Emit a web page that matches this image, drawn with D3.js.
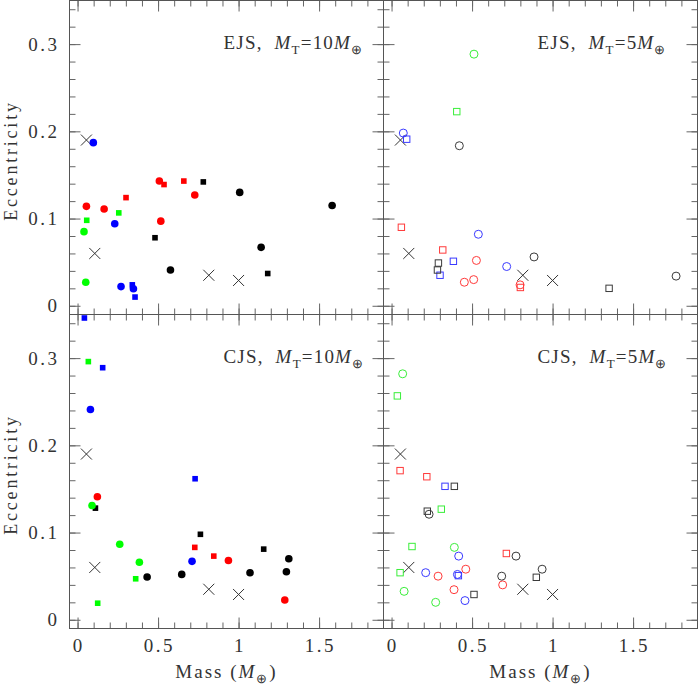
<!DOCTYPE html>
<html>
<head>
<meta charset="utf-8">
<script src="https://cdn.jsdelivr.net/npm/d3@7"></script>
<style>
  body { margin: 0; background: #fff; }
  svg text { font-family: "Liberation Serif", serif; fill: #333; }
</style>
</head>
<body>
<svg id="chart" width="698" height="690"></svg>
<script>
// solar system planets (crosses), same in every panel
const planets = [[0.055, 0.19], [0.107, 0.06], [0.815, 0.035], [1.0, 0.029]]

// EJS, MT = 10 Earth masses (filled markers) -- [mass, ecc, colour]
const ejs10Circles = [
  [0.098, 0.187, "b"], [0.231, 0.094, "b"], [0.270, 0.022, "b"], [0.347, 0.0195, "b"],
  [0.055, 0.114, "r"], [0.165, 0.111, "r"], [0.508, 0.143, "r"], [0.517, 0.097, "r"], [0.728, 0.127, "r"],
  [0.040, 0.085, "g"], [0.051, 0.027, "g"],
  [1.007, 0.130, "k"], [1.581, 0.115, "k"], [1.140, 0.067, "k"], [0.577, 0.041, "k"]
]
const ejs10Squares = [
  [0.340, 0.024, "b"], [0.357, 0.010, "b"],
  [0.301, 0.124, "r"], [0.537, 0.139, "r"], [0.660, 0.143, "r"],
  [0.057, 0.098, "g"], [0.256, 0.1065, "g"],
  [0.781, 0.142, "k"], [0.481, 0.078, "k"], [1.181, 0.037, "k"]
]

// EJS, MT = 5 Earth masses (open markers)
const ejs5Circles = [
  [0.512, 0.2885, "g"],
  [0.073, 0.198, "b"], [0.539, 0.082, "b"], [0.715, 0.045, "b"],
  [0.421, 0.1835, "k"], [0.885, 0.056, "k"], [1.767, 0.034, "k"],
  [0.527, 0.052, "r"], [0.510, 0.030, "r"], [0.452, 0.027, "r"], [0.798, 0.024, "r"]
]
const ejs5Squares = [
  [0.405, 0.2226, "g"],
  [0.094, 0.191, "b"], [0.384, 0.051, "b"], [0.301, 0.035, "b"],
  [0.061, 0.090, "r"], [0.318, 0.064, "r"], [0.800, 0.021, "r"],
  [0.291, 0.049, "k"], [0.285, 0.041, "k"], [1.351, 0.020, "k"]
]

// CJS, MT = 10 Earth masses (filled markers)
const cjs10Circles = [
  [0.080, 0.241, "b"], [0.711, 0.067, "b"],
  [0.123, 0.141, "r"], [0.937, 0.068, "r"], [1.287, 0.0226, "r"],
  [0.090, 0.131, "g"], [0.262, 0.0866, "g"], [0.384, 0.066, "g"],
  [0.432, 0.049, "k"], [0.647, 0.052, "k"], [1.071, 0.054, "k"], [1.297, 0.055, "k"], [1.312, 0.070, "k"]
]
const cjs10Squares = [
  [0.0425, 0.346, "b"], [0.156, 0.289, "b"], [0.730, 0.1617, "b"],
  [0.067, 0.296, "g"], [0.361, 0.047, "g"], [0.125, 0.019, "g"],
  [0.111, 0.128, "k"], [0.763, 0.098, "k"], [1.156, 0.081, "k"],
  [0.728, 0.083, "r"], [0.846, 0.073, "r"]
]

// CJS, MT = 5 Earth masses (open markers)
const cjs5Circles = [
  [0.069, 0.282, "g"], [0.390, 0.083, "g"], [0.078, 0.0326, "g"], [0.274, 0.020, "g"],
  [0.417, 0.073, "b"], [0.212, 0.054, "b"], [0.409, 0.052, "b"], [0.456, 0.022, "b"],
  [0.461, 0.058, "r"], [0.289, 0.050, "r"], [0.388, 0.0345, "r"], [0.690, 0.040, "r"],
  [0.233, 0.121, "k"], [0.773, 0.073, "k"], [0.684, 0.050, "k"], [0.935, 0.058, "k"]
]
const cjs5Squares = [
  [0.036, 0.2567, "g"], [0.309, 0.1268, "g"], [0.127, 0.084, "g"], [0.053, 0.054, "g"],
  [0.053, 0.171, "r"], [0.219, 0.164, "r"], [0.713, 0.076, "r"],
  [0.332, 0.153, "b"], [0.415, 0.0506, "b"],
  [0.390, 0.153, "k"], [0.222, 0.1245, "k"], [0.512, 0.029, "k"], [0.899, 0.0487, "k"]
]

// axes
const massDomain = [-0.05, 1.9]
const eccDomain = [-0.01, 0.35]
const massMajor = [0, 0.5, 1, 1.5]
const massMajorLabels = ["0", "0.5", "1", "1.5"]
const massMinor = d3.range(0, 19).map(i => i / 10)
const eccMajor = [0, 0.1, 0.2, 0.3]
const eccMajorLabels = ["0", "0.1", "0.2", "0.3"]
const eccMinor = d3.range(0, 18).map(i => i / 50)

const panels = [
  { sys: "EJS", mt: "10", circles: ejs10Circles, squares: ejs10Squares, open: false, col: 0, row: 0 },
  { sys: "EJS", mt: "5", circles: ejs5Circles, squares: ejs5Squares, open: true, col: 1, row: 0 },
  { sys: "CJS", mt: "10", circles: cjs10Circles, squares: cjs10Squares, open: false, col: 0, row: 1 },
  { sys: "CJS", mt: "5", circles: cjs5Circles, squares: cjs5Squares, open: true, col: 1, row: 1 }
]

const fillColor = { r: "#ff0000", g: "#00ff00", b: "#0000ff", k: "#000000" }
const lineColor = { r: "#ff3a3a", g: "#3aee3a", b: "#3a3aff", k: "#3a3a3a" }

const svg = d3.select("#chart")
const pw = 314, ph = 314
const left0 = 69.5, top0 = 0.5
const majorLen = 11, minorLen = 6

panels.forEach(p => {
  const px = left0 + p.col * pw
  const py = top0 + p.row * ph
  const x = d3.scaleLinear().domain(massDomain).range([px, px + pw])
  const y = d3.scaleLinear().domain(eccDomain).range([py + ph, py])

  const g = svg.append("g")

  // inward ticks on all four sides
  function ticks(axis, tr, vals, len) {
    const a = g.append("g")
      .attr("transform", tr)
      .call(axis.tickValues(vals).tickSize(-len).tickFormat(""))
    a.select(".domain").remove()
    a.selectAll("line").attr("stroke", "#666")
  }
  ;[[massMinor, minorLen], [massMajor, majorLen]].forEach(([v, l]) => {
    ticks(d3.axisBottom(x), `translate(0,${py + ph})`, v, l)
    ticks(d3.axisTop(x), `translate(0,${py})`, v, l)
  })
  ;[[eccMinor, minorLen], [eccMajor, majorLen]].forEach(([v, l]) => {
    ticks(d3.axisLeft(y), `translate(${px},0)`, v, l)
    ticks(d3.axisRight(y), `translate(${px + pw},0)`, v, l)
  })

  g.append("rect")
    .attr("x", px).attr("y", py).attr("width", pw).attr("height", ph)
    .attr("fill", "none").attr("stroke", "#555").attr("stroke-width", 1)

  // tick labels
  if (p.row === 1) {
    g.selectAll(".xlab").data(massMajor).join("text")
      .attr("x", d => x(d) + 1.3)
      .attr("y", py + ph + 23.5)
      .attr("text-anchor", "middle")
      .style("font-size", "19px").style("letter-spacing", "2.5px")
      .text((d, i) => massMajorLabels[i])

    const lab = g.append("text")
      .attr("x", px + pw / 2)
      .attr("y", 678)
      .attr("text-anchor", "middle")
      .style("font-size", "19px").style("letter-spacing", "2px")
    lab.append("tspan").text("Mass (")
    lab.append("tspan").style("font-style", "italic").text("M")
    lab.append("tspan").attr("dy", 5).style("font-size", "13px").text("⊕")
    lab.append("tspan").attr("dy", -5).text(")")
  }
  if (p.col === 0) {
    g.selectAll(".ylab").data(eccMajor).join("text")
      .attr("x", px - 10)
      .attr("y", d => y(d) + 6.5)
      .attr("text-anchor", "end")
      .style("font-size", "19px").style("letter-spacing", "2.5px")
      .text((d, i) => eccMajorLabels[i])

    g.append("text")
      .attr("transform", `translate(17,${py + ph / 2 + 3}) rotate(-90)`)
      .attr("text-anchor", "middle")
      .style("font-size", "18px").style("letter-spacing", "2.8px")
      .text("Eccentricity")
  }

  // panel annotation
  const ann = g.append("text")
    .attr("x", px + 154)
    .attr("y", py + 48)
    .style("font-size", "19px").style("letter-spacing", "1.2px")
  ann.append("tspan").text(p.sys + ",\u00a0 ")
  ann.append("tspan").style("font-style", "italic").text("M")
  ann.append("tspan").attr("dy", 5).style("font-size", "13px").text("T")
  ann.append("tspan").attr("dy", -5).text("=" + p.mt)
  ann.append("tspan").style("font-style", "italic").text("M")
  ann.append("tspan").attr("dy", 5).style("font-size", "13px").text("⊕")

  // planets
  const s = 5.5
  g.selectAll(".planet").data(planets).join("path")
    .attr("d", d => {
      const cx = x(d[0]), cy = y(d[1])
      return `M${cx - s},${cy - s}L${cx + s},${cy + s}M${cx - s},${cy + s}L${cx + s},${cy - s}`
    })
    .attr("stroke", "#333").attr("stroke-width", 1).attr("fill", "none")

  // simulated planets
  if (p.open) {
    g.selectAll(".sq").data(p.squares).join("rect")
      .attr("x", d => x(d[0]) - 3.2).attr("y", d => y(d[1]) - 3.2)
      .attr("width", 6.4).attr("height", 6.4)
      .attr("fill", "none").attr("stroke", d => lineColor[d[2]]).attr("stroke-width", 1)
    g.selectAll(".ci").data(p.circles).join("circle")
      .attr("cx", d => x(d[0])).attr("cy", d => y(d[1])).attr("r", 4)
      .attr("fill", "none").attr("stroke", d => lineColor[d[2]]).attr("stroke-width", 1)
  } else {
    g.selectAll(".sq").data(p.squares).join("rect")
      .attr("x", d => x(d[0]) - 2.8).attr("y", d => y(d[1]) - 2.8)
      .attr("width", 5.6).attr("height", 5.6)
      .attr("fill", d => fillColor[d[2]])
    g.selectAll(".ci").data(p.circles).join("circle")
      .attr("cx", d => x(d[0])).attr("cy", d => y(d[1])).attr("r", 3.8)
      .attr("fill", d => fillColor[d[2]])
  }
})
</script>
</body>
</html>
